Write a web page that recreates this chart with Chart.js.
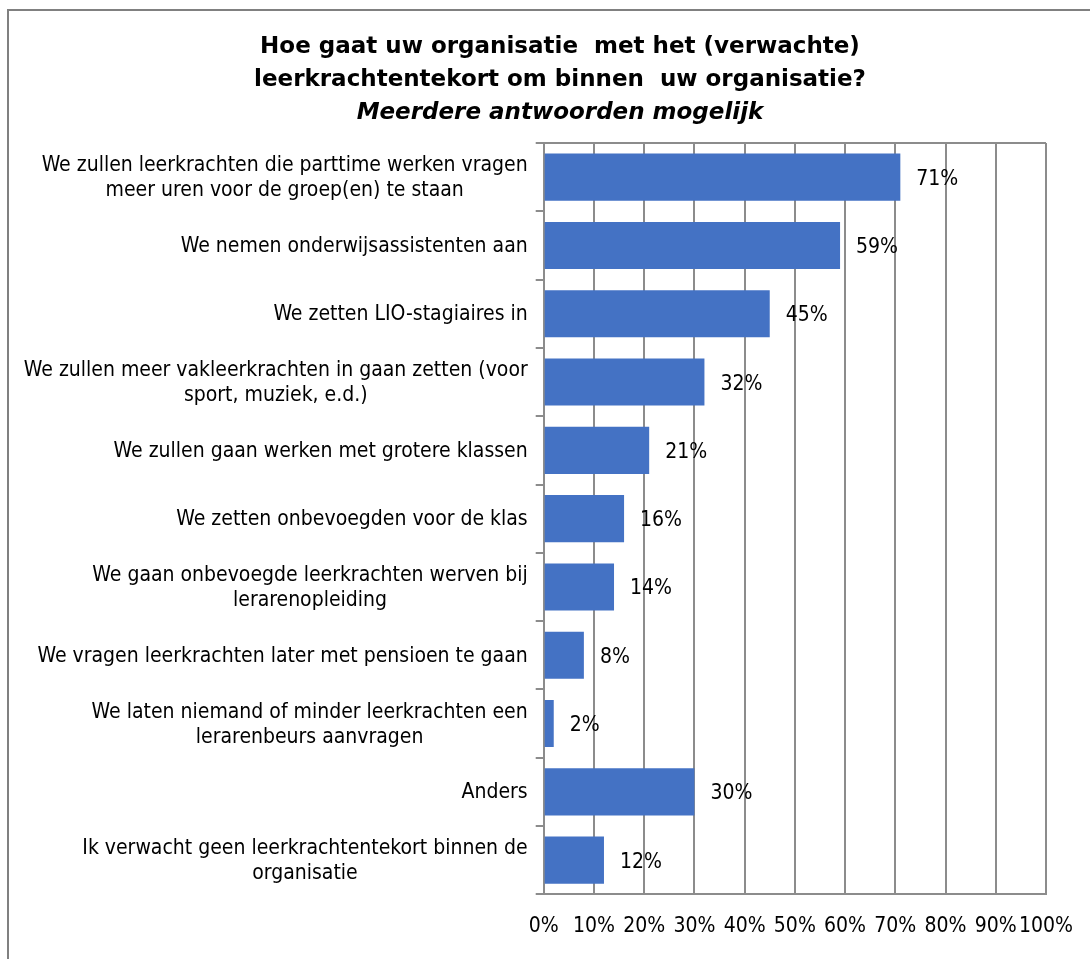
<!DOCTYPE html>
<html lang="nl">
<head>
<meta charset="utf-8">
<title>Leerkrachtentekort</title>
<script src="https://cdn.jsdelivr.net/npm/chart.js@4.4.1/dist/chart.umd.min.js"></script>
<style>
  html, body { margin: 0; padding: 0; background: #fff; overflow: hidden; }
  #kader {
    position: absolute; left: 7px; top: 9px; width: 1100px; height: 960px;
    border-top: 2px solid #808080; border-left: 2px solid #808080;
  }
  #grafiek-vak { position: absolute; left: 0; top: 0; width: 1090px; height: 959px; }
</style>
</head>
<body>
<div id="kader"></div>
<div id="grafiek-vak"><canvas id="grafiek"></canvas></div>
<script>

// DATA //

const titelRegels = [
  "Hoe gaat uw organisatie  met het (verwachte)",
  "leerkrachtentekort om binnen  uw organisatie?"
]
const ondertitel = "Meerdere antwoorden mogelijk"

const categorieen = [
  ["We zullen leerkrachten die parttime werken vragen", "meer uren voor de groep(en) te staan"],
  "We nemen onderwijsassistenten aan",
  "We zetten LIO-stagiaires in",
  ["We zullen meer vakleerkrachten in gaan zetten (voor", "sport, muziek, e.d.)"],
  "We zullen gaan werken met grotere klassen",
  "We zetten onbevoegden voor de klas",
  ["We gaan onbevoegde leerkrachten werven bij", "lerarenopleiding"],
  "We vragen leerkrachten later met pensioen te gaan",
  ["We laten niemand of minder leerkrachten een", "lerarenbeurs aanvragen"],
  "Anders",
  ["Ik verwacht geen leerkrachtentekort binnen de", "organisatie"]
]

const percentages = [71, 59, 45, 32, 21, 16, 14, 8, 2, 30, 12]

const asTicks = [0, 10, 20, 30, 40, 50, 60, 70, 80, 90, 100]


// STIJL //

const lijnKleur = "#8c8c8c"
const balkKleur = "#4472C4"
const tekstFamilie = '"DejaVu Sans Condensed", "Liberation Sans", sans-serif'
const tekstFont = '21px ' + tekstFamilie
const titelFont = 'bold 23px "DejaVu Sans", Verdana, sans-serif'
const ondertitelFont = 'italic bold 23px "DejaVu Sans", Verdana, sans-serif'


// eigen tekst: titel, categorie labels en percentages
const tekstPlugin = {
  id: "tekst",
  afterDraw(chart) {
    const ctx = chart.ctx
    const area = chart.chartArea
    const sx = chart.scales.x
    const sy = chart.scales.y

    ctx.save()

    // bovenrand van het plotgebied
    ctx.strokeStyle = lijnKleur
    ctx.lineWidth = 2
    ctx.beginPath()
    ctx.moveTo(area.left, area.top)
    ctx.lineTo(area.right, area.top)
    ctx.stroke()

    ctx.fillStyle = "#000"
    ctx.textAlign = "center"
    ctx.textBaseline = "middle"

    // titel
    ctx.font = titelFont
    ctx.fillText(titelRegels[0], 560, 47)
    ctx.fillText(titelRegels[1], 560, 80)
    ctx.font = ondertitelFont
    ctx.fillText(ondertitel, 560, 113)

    // categorie labels
    ctx.font = tekstFont
    const regelHoogte = 25
    categorieen.forEach(function (cat, i) {
      const regels = Array.isArray(cat) ? cat : [cat]
      let breed = 0
      regels.forEach(function (r) {
        breed = Math.max(breed, ctx.measureText(r).width)
      })
      const midden = area.left - 16 - breed / 2
      const yc = sy.getPixelForValue(i)
      regels.forEach(function (r, j) {
        ctx.fillText(r, midden, yc + 1 + (j - (regels.length - 1) / 2) * regelHoogte)
      })
    })

    // percentages naast de balken
    ctx.textAlign = "left"
    percentages.forEach(function (v, i) {
      ctx.fillText(v + "%", sx.getPixelForValue(v) + 16, sy.getPixelForValue(i) + 2)
    })

    ctx.restore()
  }
}


// CHART JS //

const ctg = document.getElementById("grafiek")

new Chart(ctg, {
  type: "bar",
  data: {
    labels: categorieen,
    datasets: [
      {
        label: "Percentage",
        data: percentages,
        backgroundColor: balkKleur,
        borderWidth: 0,
        barPercentage: 0.69,
        categoryPercentage: 1.0
      }
    ]
  },
  options: {
    indexAxis: "y",
    responsive: true,
    maintainAspectRatio: false,
    animation: false,
    layout: {
      padding: {
        top: 143,
        left: 30,
        right: 44,
        bottom: 0
      }
    },
    plugins: {
      legend: { display: false },
      tooltip: { enabled: false }
    },
    scales: {
      x: {
        min: 0,
        max: 100,
        afterBuildTicks: function (s) {
          s.ticks = asTicks.map(function (v) { return { value: v } })
        },
        afterFit: function (s) {
          s.height = 64.7
          s.paddingLeft = 0
          s.paddingRight = 0
        },
        grid: {
          color: lijnKleur,
          lineWidth: 2,
          drawTicks: false
        },
        border: {
          color: lijnKleur,
          width: 2
        },
        ticks: {
          color: "#000",
          padding: 20,
          maxRotation: 0,
          minRotation: 0,
          autoSkip: false,
          font: {
            family: tekstFamilie,
            size: 21
          },
          callback: function (v) { return v + "%" }
        }
      },
      y: {
        afterFit: function (s) {
          s.width = 513.7
        },
        grid: {
          offset: true,
          drawOnChartArea: false,
          drawTicks: true,
          tickLength: 8,
          color: lijnKleur,
          lineWidth: 2
        },
        border: {
          color: lijnKleur,
          width: 2
        },
        ticks: {
          display: false
        }
      }
    }
  },
  plugins: [tekstPlugin]
})

</script>
</body>
</html>
